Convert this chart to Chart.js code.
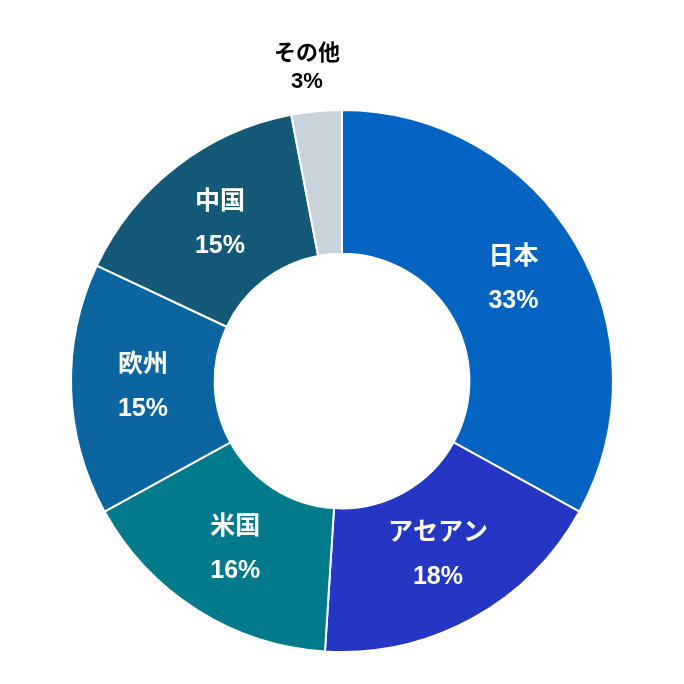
<!DOCTYPE html>
<html>
<head>
<meta charset="utf-8">
<script src="https://cdn.jsdelivr.net/npm/chart.js@4"></script>
<style>
  body { margin: 0; background: #fff; }
  #wrap { width: 684px; height: 684px; }
</style>
</head>
<body>
<div id="wrap"><canvas id="chart"></canvas></div>
<script>
const labels = ["日本", "アセアン", "米国", "欧州", "中国", "その他"];
const shares = [33, 18, 16, 15, 15, 3];
const colors = ["#0563c1", "#2536c4", "#017b8b", "#0a65a0", "#145a78", "#c9d3dc"];

const FONT = "'Liberation Sans', 'Noto Sans CJK JP', sans-serif";

const sliceLabels = {
  id: "sliceLabels",
  afterDatasetsDraw(chart) {
    const ctx = chart.ctx;
    const meta = chart.getDatasetMeta(0);
    ctx.save();
    ctx.textAlign = "center";
    ctx.textBaseline = "middle";
    ctx.font = "bold 25px " + FONT;
    meta.data.forEach((arc, i) => {
      const mid = (arc.startAngle + arc.endAngle) / 2;
      let r = (arc.innerRadius + arc.outerRadius) / 2;
      let color = "#fff";
      let x, y;
      if (shares[i] < 5) {
        color = "#000";
        ctx.font = "bold 22px " + FONT;
        x = arc.x - 35; y = arc.y - arc.outerRadius - 42;
        ctx.fillStyle = color;
        ctx.fillText(labels[i], x, y - 14);
        ctx.fillText(shares[i] + "%", x, y + 14);
        return;
      }
      x = arc.x + Math.cos(mid) * r;
      y = arc.y + Math.sin(mid) * r;
      ctx.fillStyle = color;
      ctx.fillText(labels[i], x, y - 22);
      ctx.fillText(shares[i] + "%", x, y + 22);
    });
    ctx.restore();
  }
};

new Chart(document.getElementById("chart"), {
  type: "doughnut",
  data: {
    labels: labels,
    datasets: [{
      data: shares,
      backgroundColor: colors,
      borderColor: "#fff",
      borderWidth: 2
    }]
  },
  options: {
    responsive: true,
    maintainAspectRatio: false,
    animation: false,
    cutout: "47%",
    layout: { padding: { top: 109, bottom: 31, left: 70, right: 70 } },
    plugins: { legend: { display: false }, tooltip: { enabled: false } }
  },
  plugins: [sliceLabels]
});
</script>
</body>
</html>
